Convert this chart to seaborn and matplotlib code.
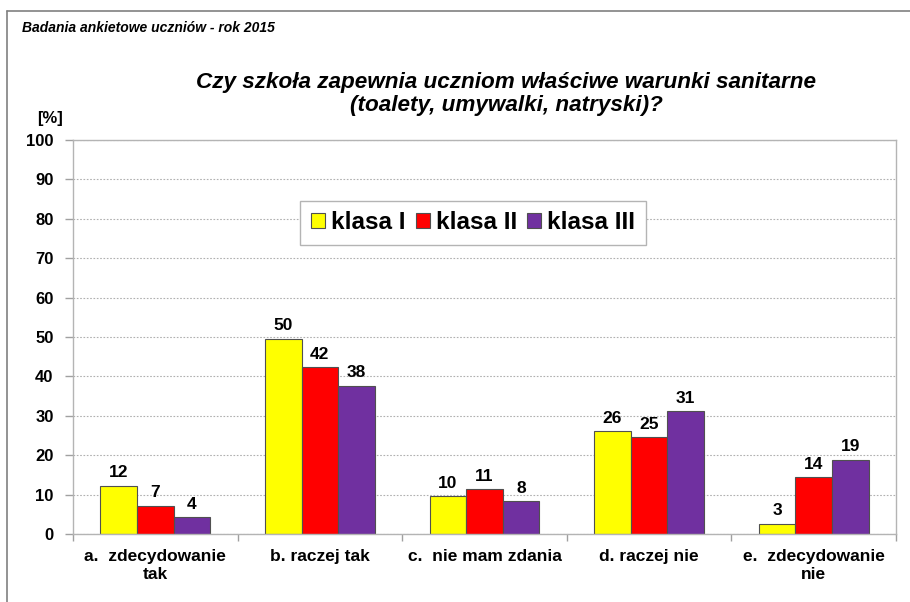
import matplotlib
matplotlib.use("Agg")
import matplotlib.pyplot as plt
import numpy as np
import pandas as pd
import seaborn as sns

# ── data ──────────────────────────────────────────────
categories = [
    "a.  zdecydowanie\ntak",
    "b. raczej tak",
    "c.  nie mam zdania",
    "d. raczej nie",
    "e.  zdecydowanie\nnie",
]
series = ["klasa I", "klasa II", "klasa III"]
klasa_1 = [12.3, 49.6, 9.6, 26.1, 2.6]
klasa_2 = [7.2, 42.3, 11.3, 24.6, 14.4]
klasa_3 = [4.2, 37.6, 8.3, 31.1, 18.8]
colors = ["#FFFF00", "#FF0000", "#7030A0"]
y_ticks = [0, 10, 20, 30, 40, 50, 60, 70, 80, 90, 100]

df = pd.DataFrame({
    "kategoria": categories * 3,
    "klasa": [s for s in series for _ in categories],
    "procent": klasa_1 + klasa_2 + klasa_3,
})

# ── style ─────────────────────────────────────────────
sns.set_theme(style="white")
plt.rcParams["font.family"] = ["Liberation Sans", "DejaVu Sans"]
plt.rcParams["text.color"] = "black"
plt.rcParams["xtick.color"] = "black"
plt.rcParams["ytick.color"] = "black"

fig = plt.figure(figsize=(9.1, 6.02), dpi=100)
ax = fig.add_axes([73 / 910, 68 / 602, 823 / 910, 394 / 602])

sns.barplot(
    data=df, x="kategoria", y="procent", hue="klasa",
    order=categories, hue_order=series, palette=colors,
    width=0.667, edgecolor="#505050", linewidth=0.8, saturation=1,
    ax=ax,
)

for cont in ax.containers:
    ax.bar_label(cont, labels=[f"{b.get_height():.0f}" for b in cont],
                 padding=4, fontsize=12.5, fontweight="bold", color="black")

ax.set_ylim(0, 100)
ax.set_xlim(-0.5, len(categories) - 0.5)
ax.set_yticks(y_ticks)
ax.set_yticklabels([str(t) for t in y_ticks], fontsize=12, fontweight="bold")
ax.set_xticks(range(len(categories)))
ax.set_xticklabels(categories, fontsize=12.5, fontweight="bold", linespacing=1.2)
ax.set_xticks(np.arange(-0.5, len(categories)), minor=True)
ax.tick_params(axis="x", which="major", length=0, pad=11)
ax.tick_params(axis="x", which="minor", length=5, width=1, color="#A0A0A0",
               direction="out", bottom=True)
ax.tick_params(axis="y", length=6, width=1, color="#A0A0A0",
               labelcolor="black", direction="out", left=True, pad=8)
ax.set_xlabel("")
ax.set_ylabel("")

ax.yaxis.grid(True, linestyle=(0, (1.5, 1.5)), color="#B0B0B0", linewidth=0.8)
ax.set_axisbelow(True)
for sp in ax.spines.values():
    sp.set_color("#B4B4B4")
    sp.set_linewidth(1)

# legend
handles, labels = ax.get_legend_handles_labels()
ax.legend(
    handles, labels, ncol=3, loc="center",
    bbox_to_anchor=(473 / 910, 1 - 223 / 602), bbox_transform=fig.transFigure,
    prop={"size": 17.5, "weight": "bold"},
    handlelength=0.58, handleheight=0.58, handletextpad=0.25,
    columnspacing=0.4, borderpad=0.45, frameon=True, fancybox=False,
    edgecolor="#B4B4B4", framealpha=1,
)

# texts
fig.text(22 / 910, 1 - 28 / 602, "Badania ankietowe uczniów - rok 2015",
         fontsize=10, fontweight="bold", fontstyle="italic", va="center")
fig.text(506 / 910, 1 - 94 / 602,
         "Czy szkoła zapewnia uczniom właściwe warunki sanitarne\n"
         "(toalety, umywalki, natryski)?",
         fontsize=16.2, fontweight="bold", fontstyle="italic",
         ha="center", va="center", linespacing=1.1)
fig.text(50 / 910, 1 - 119 / 602, "[%]", fontsize=12, fontweight="bold",
         ha="center", va="center")

# outer chart frame (left and top edges visible)
fig.add_artist(plt.Line2D([7 / 910, 7 / 910], [0, 1 - 11 / 602],
                          transform=fig.transFigure, color="#808080", lw=1.2))
fig.add_artist(plt.Line2D([7 / 910, 1], [1 - 11 / 602, 1 - 11 / 602],
                          transform=fig.transFigure, color="#808080", lw=1.2))

fig.savefig("out.png", dpi=100)
